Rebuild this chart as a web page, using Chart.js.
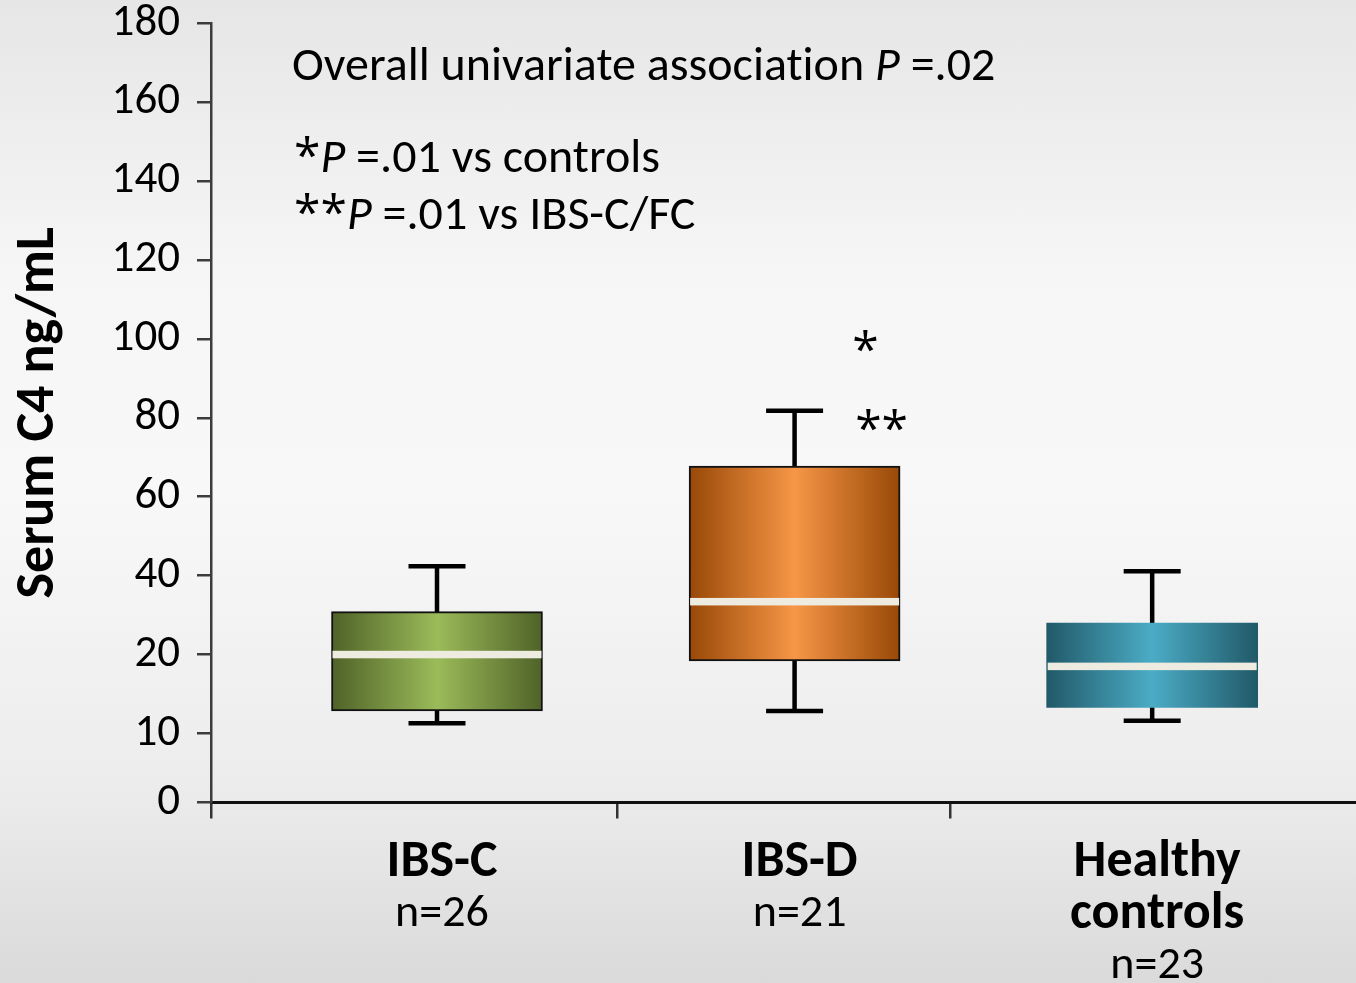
<!DOCTYPE html>
<html>
<head>
<meta charset="utf-8">
<script src="https://cdn.jsdelivr.net/npm/chart.js@4.4.0/dist/chart.umd.min.js"></script>
<style>
    html, body { margin: 0; padding: 0; overflow: hidden; }
    body {
        background: linear-gradient(to bottom, #e6e6e6 0%, #f6f6f6 28%, #f8f8f8 50%, #ececec 80%, #dadada 100%);
    }
    canvas { display: block; }
</style>
</head>
<body>
<canvas id="c4Chart" width="1356" height="983"></canvas>
<script>
// groups and box plot values (y in axis units)
const groups = ["IBS-C", "IBS-D", "Healthy controls"];
const groupLines = [["IBS-C"], ["IBS-D"], ["Healthy", "controls"]];
const groupN = [26, 21, 23];
const whiskerLow = [2.6, 5.7, 3.2];
const q1 = [5.7, 18.4, 6.6];
const median = [20.0, 33.4, 17.0];
const q3 = [30.9, 67.8, 28.0];
const whiskerHigh = [42.4, 81.8, 41.1];

// y axis: ticks and the labels printed beside them
const yTickValues = [-17.5, 0, 20, 40, 60, 80, 100, 120, 140, 160, 180];
const yTickLabels = ["0", "10", "20", "40", "60", "80", "100", "120", "140", "160", "180"];

const boxEdge = ["#4f6228", "#984807", "#215968"];
const boxMid = ["#9bbb59", "#f79646", "#4bacc6"];
const boxBorder = [2, 2, 0];

const FONT = "Carlito, Lato, 'Open Sans', sans-serif";
const STAR_FONT = "'Open Sans', sans-serif";
const BOX_W = 211;
const CAP_W = 57;
const positions = groups.map((g, i) => i + 1);

// runs: [text, style] where style is "", "italic" or "star"
function drawRuns(ctx, runs, x, y, size) {
    let cx = x;
    runs.forEach(([text, style]) => {
        if (style === "star") ctx.font = size + "px " + STAR_FONT;
        else ctx.font = (style === "italic" ? "italic " : "") + size + "px " + FONT;
        ctx.fillText(text, cx, y);
        cx += ctx.measureText(text).width;
    });
}

const boxPlot = {
    id: "boxPlot",
    beforeDatasetsDraw(chart) {
        const { ctx, scales: { x, y } } = chart;
        ctx.save();
        ctx.strokeStyle = "#000";
        ctx.lineWidth = 4.5;
        groups.forEach((g, i) => {
            const cx = x.getPixelForValue(positions[i]);
            const lo = y.getPixelForValue(whiskerLow[i]);
            const hi = y.getPixelForValue(whiskerHigh[i]);
            ctx.beginPath();
            ctx.moveTo(cx, lo);
            ctx.lineTo(cx, hi);
            ctx.moveTo(cx - CAP_W / 2, lo);
            ctx.lineTo(cx + CAP_W / 2, lo);
            ctx.moveTo(cx - CAP_W / 2, hi);
            ctx.lineTo(cx + CAP_W / 2, hi);
            ctx.stroke();
        });
        ctx.restore();
    },
    afterDatasetsDraw(chart) {
        const { ctx, chartArea, scales: { x, y } } = chart;
        ctx.save();
        // medians
        ctx.fillStyle = "#eeece1";
        groups.forEach((g, i) => {
            const cx = x.getPixelForValue(positions[i]);
            const my = y.getPixelForValue(median[i]);
            ctx.fillRect(cx - BOX_W / 2 + 1, my - 3.75, BOX_W - 2, 7.5);
        });

        ctx.fillStyle = "#000";
        ctx.textAlign = "left";
        ctx.textBaseline = "alphabetic";
        ctx.letterSpacing = "0.01px"; // keeps "ti" from ligaturing
        const nx = chartArea.left + 81;
        drawRuns(ctx, [["Overall univariate association ", ""], ["P", "italic"], [" =.02", ""]], nx, 80, 48);
        drawRuns(ctx, [["*", "star"], ["P", "italic"], [" =.01 vs controls", ""]], nx + 2, 172, 48);
        drawRuns(ctx, [["**", "star"], ["P", "italic"], [" =.01 vs IBS-C/FC", ""]], nx + 2, 229, 48);

        // significance stars over IBS-D
        ctx.textAlign = "center";
        ctx.font = "48px " + STAR_FONT;
        const dx = x.getPixelForValue(positions[1]);
        ctx.fillText("*", dx + 71, y.getPixelForValue(93.2));
        ctx.fillText("**", dx + 87, y.getPixelForValue(73.2));

        // group labels under the axis
        groups.forEach((g, i) => {
            const cx = x.getPixelForValue(positions[i]) + 5;
            let ly = 876;
            groupLines[i].forEach((line) => {
                ctx.font = "bold 52px " + FONT;
                ctx.fillText(line, cx, ly);
                ly += 52;
            });
            ctx.font = "46px " + FONT;
            ctx.fillText("n=" + groupN[i], cx, ly - 2);
        });
        ctx.restore();
    }
};

document.addEventListener("DOMContentLoaded", function () {
    const ctx = document.getElementById("c4Chart").getContext("2d");

    new Chart(ctx, {
        type: "bar",
        data: {
            datasets: [
                {
                    data: positions.map((p, i) => ({ x: p, y: [q1[i], q3[i]] })),
                    backgroundColor: (c) => {
                        const i = c.dataIndex;
                        const xs = c.chart.scales.x;
                        if (i === undefined || !xs) return boxMid[0];
                        const cx = xs.getPixelForValue(positions[i]);
                        if (!isFinite(cx)) return boxMid[i];
                        const g = c.chart.ctx.createLinearGradient(cx - BOX_W / 2, 0, cx + BOX_W / 2, 0);
                        g.addColorStop(0, boxEdge[i]);
                        g.addColorStop(0.5, boxMid[i]);
                        g.addColorStop(1, boxEdge[i]);
                        return g;
                    },
                    borderColor: "#111",
                    borderWidth: boxBorder,
                    borderSkipped: false,
                    barThickness: BOX_W,
                },
            ],
        },
        options: {
            responsive: false,
            animation: false,
            layout: { padding: { top: 23.3, left: 0, right: 0, bottom: 0 } },
            plugins: {
                legend: { display: false },
                tooltip: { enabled: false },
            },
            scales: {
                x: {
                    type: "linear",
                    offset: false,
                    min: 0.368,
                    max: 3.57,
                    afterBuildTicks: (s) => {
                        s.ticks = [0.368, 1.504, 2.435].map((v) => ({ value: v }));
                    },
                    afterFit: (s) => {
                        s.height = 180.5;
                        s.paddingLeft = 0;
                        s.paddingRight = 0;
                    },
                    ticks: { display: false },
                    grid: {
                        offset: false,
                        drawOnChartArea: false,
                        tickLength: 16,
                        color: "#333",
                        lineWidth: 2.5,
                    },
                    border: { color: "#111", width: 3 },
                },
                y: {
                    min: -17.5,
                    max: 180,
                    afterBuildTicks: (s) => {
                        s.ticks = yTickValues.map((v) => ({ value: v }));
                    },
                    afterFit: (s) => {
                        s.width = 211;
                        s.paddingTop = 0;
                        s.paddingBottom = 0;
                    },
                    ticks: {
                        callback: (v, i) => yTickLabels[i],
                        color: "#000",
                        padding: 17,
                        font: { family: FONT, size: 45 },
                    },
                    grid: {
                        drawOnChartArea: false,
                        tickLength: 14,
                        color: "#3c3c3c",
                        lineWidth: 2.5,
                    },
                    border: { color: "#3c3c3c", width: 2.5 },
                    title: {
                        display: true,
                        text: "Serum C4 ng/mL",
                        color: "#000",
                        font: { family: FONT, size: 54, weight: "bold" },
                        padding: { top: 7, bottom: 0 },
                    },
                },
            },
        },
        plugins: [boxPlot],
    });
});
</script>
</body>
</html>
